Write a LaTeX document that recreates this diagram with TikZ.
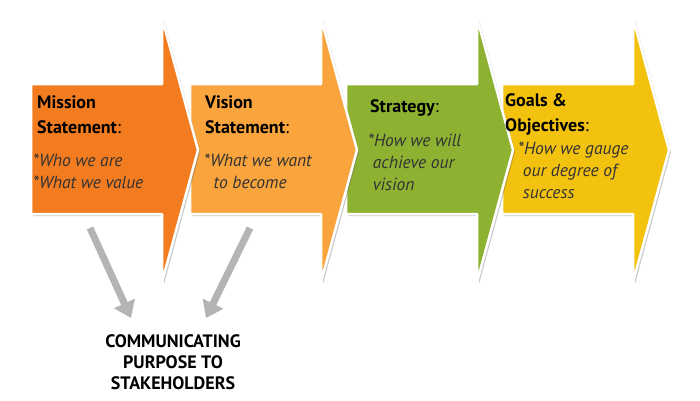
\documentclass[tikz,border=0pt]{standalone}
\usepackage{fontspec}
\setmainfont{PT Sans}
\usetikzlibrary{arrows.meta,shadows}
\definecolor{c1}{HTML}{F47C20}
\definecolor{c2}{HTML}{F9A43C}
\definecolor{c3}{HTML}{8DB232}
\definecolor{c4}{HTML}{F3C20E}
\definecolor{gr}{HTML}{B4B4B4}
\definecolor{tx}{HTML}{333333}
\tikzset{
 blk/.style={draw=white,line width=2.5pt,line join=round,drop shadow={shadow xshift=2pt,shadow yshift=-2pt,opacity=0.35,fill=black!60}},
 ttl/.style={anchor=north west,align=left,font=\fontsize{18}{25}\selectfont\bfseries,inner sep=0pt,text=black},
 sub/.style={anchor=north west,align=left,font=\fontsize{17.5}{22}\selectfont\itshape,text=tx,inner sep=0pt},
 garrow/.style={line width=7pt,gr,-{Triangle[length=16pt,width=22pt]}},
}
\newcommand{\blkarrow}[2]{% #1 left x, #2 colour
 \fill[blk,fill=#2] (#1,84) -- ++(131,0) -- ++(0,-66) -- ++(36,132) -- ++(-36,132) -- ++(0,-68) -- ++(-131,0) -- cycle;}
\begin{document}
\begin{tikzpicture}[x=1pt,y=-1pt]
\useasboundingbox[fill=white] (0,0) rectangle (700,400);
\blkarrow{502}{c4}
\blkarrow{346}{c3}
\blkarrow{190}{c2}
\blkarrow{31}{c1}
\node[ttl] (t1) at (37,95) {Mission\\Statement\mdseries:};
\node[sub] (s1) at (33,154) {*Who we are\\*What we value};
\node[ttl] (t2) at (205,95) {Vision\\Statement\mdseries:};
\node[sub] (s2) at (204,154) {*What we want\\\ \ to become};
\node[ttl] (t3) at (370,99) {Strategy\mdseries:};
\node[sub] (s3) at (368,134) {*How we will\\\ achieve our\\\ vision};
\node[ttl] (t4) at (505,93) {Goals \&\\Objectives\mdseries:};
\node[sub] (s4) at (518,142) {*How we gauge\\\ our degree of\\\ success};
\coordinate (a1) at (90,228);
\coordinate (a2) at (250,228);
\node[align=center,font=\fontsize{18}{21}\selectfont\bfseries,inner sep=0pt] (cp) at (173,362) {COMMUNICATING\\PURPOSE TO\\STAKEHOLDERS};
\coordinate (e1) at (131,318);
\coordinate (e2) at (206,318);
\draw[garrow] (a1) -- (e1);
\draw[garrow] (a2) -- (e2);
\end{tikzpicture}
\end{document}
